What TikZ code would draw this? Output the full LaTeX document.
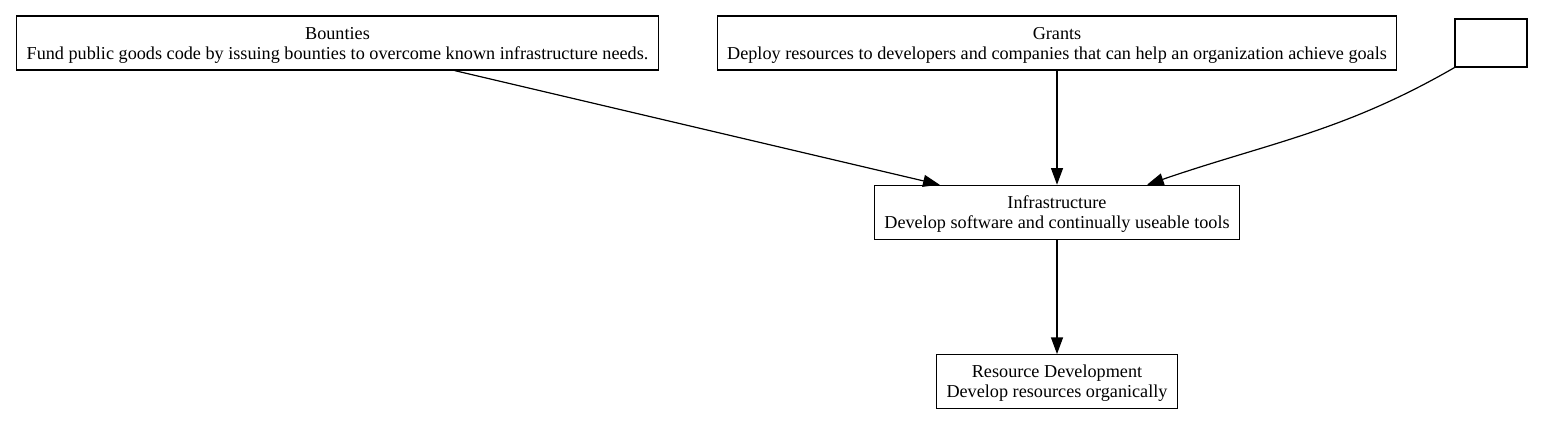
\documentclass[tikz,border=0pt]{standalone}
\usepackage{fontspec}
\setmainfont{Liberation Serif}
\usetikzlibrary{arrows.meta}

\begin{document}
\begin{tikzpicture}[->,>={Triangle[length=12.5pt,width=9pt]},x=0.75pt,y=-0.75pt,node distance=127pt,line width=0.9pt,
	box/.style={draw,rectangle,align=center,font=\fontsize{13.65}{15}\selectfont,text depth=0pt,inner xsep=7.5pt,minimum height=40.5pt}]

\useasboundingbox (0,0) rectangle (1544,425);

\node[box](bounties) at (337.5,43){Bounties\\Fund public goods code by issuing bounties to overcome known infrastructure needs.};
\node[box](grants) at (1057,43){Grants\\Deploy resources to developers and companies that can help an organization achieve goals};
\node[box,minimum width=54pt,minimum height=36pt](blank) at (1491,43){};
\node[box](infra)[below of=grants]{Infrastructure\\Develop software and continually useable tools};
\node[box](resdev)[below of=infra]{Resource Development\\Develop resources organically};

\path(bounties)edge(infra)
	 (grants)edge(infra)
	 (blank.south west)edge[out=210,in=19]([xshift=67.5pt]infra.north)
	 (infra)edge(resdev)
	 ;

\end{tikzpicture}
\end{document}
